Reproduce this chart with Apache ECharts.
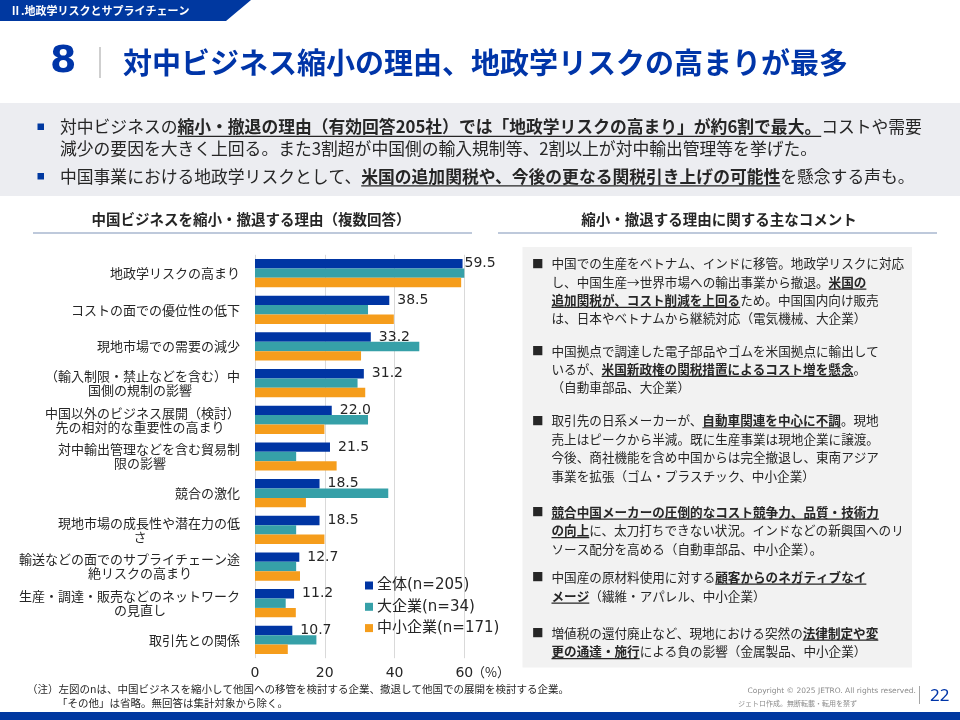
<!DOCTYPE html>
<html><head><meta charset="utf-8">
<script src="https://cdn.jsdelivr.net/npm/echarts@6/dist/echarts.min.js"></script>
<style>html,body{margin:0;padding:0;background:#fff}#c{width:960px;height:720px}</style>
</head><body><div id="c"></div>
<script>
// ---- data ----
const categories = [
  '地政学リスクの高まり',
  'コストの面での優位性の低下',
  '現地市場での需要の減少',
  '（輸入制限・禁止などを含む）中\n国側の規制の影響',
  '中国以外のビジネス展開（検討）\n先の相対的な重要性の高まり',
  '対中輸出管理などを含む貿易制\n限の影響',
  '競合の激化',
  '現地市場の成長性や潜在力の低\nさ',
  '輸送などの面でのサプライチェーン途\n絶リスクの高まり',
  '生産・調達・販売などのネットワーク\nの見直し',
  '取引先との関係'
];
const seriesNames = ['全体(n=205)', '大企業(n=34)', '中小企業(n=171)'];
const allFirms = [59.5, 38.5, 33.2, 31.2, 22.0, 21.5, 18.5, 18.5, 12.7, 11.2, 10.7];
const largeFirms = [61.8, 32.4, 47.1, 29.4, 32.4, 11.8, 38.2, 11.8, 11.8, 8.8, 17.6];
const smeFirms = [59.1, 39.8, 30.4, 31.6, 19.9, 23.4, 14.6, 19.9, 12.9, 11.7, 9.4];
const xTicks = [0, 20, 40, 60];

// ---- slide texts ----
const bannerText = 'Ⅱ.地政学リスクとサプライチェーン';
const titleNum = '8';
const titleText = '対中ビジネス縮小の理由、地政学リスクの高まりが最多';
const summaryLines = [
  [['対中ビジネスの', 0], ['縮小・撤退の理由（有効回答205社）では「地政学リスクの高まり」が約6割で最大。', 1], ['コストや需要', 0]],
  [['減少の要因を大きく上回る。また3割超が中国側の輸入規制等、2割以上が対中輸出管理等を挙げた。', 0]],
  [['中国事業における地政学リスクとして、', 0], ['米国の追加関税や、今後の更なる関税引き上げの可能性', 1], ['を懸念する声も。', 0]]
];
const leftHeader = '中国ビジネスを縮小・撤退する理由（複数回答）';
const rightHeader = '縮小・撤退する理由に関する主なコメント';
const comments = [
  [[['中国での生産をベトナム、インドに移管。地政学リスクに対応', 0]],
   [['し、中国生産→世界市場への輸出事業から撤退。', 0], ['米国の', 1]],
   [['追加関税が、コスト削減を上回る', 1], ['ため。中国国内向け販売', 0]],
   [['は、日本やベトナムから継続対応（電気機械、大企業）', 0]]],
  [[['中国拠点で調達した電子部品やゴムを米国拠点に輸出して', 0]],
   [['いるが、', 0], ['米国新政権の関税措置によるコスト増を懸念', 1], ['。', 0]],
   [['（自動車部品、大企業）', 0]]],
  [[['取引先の日系メーカーが、', 0], ['自動車関連を中心に不調', 1], ['。現地', 0]],
   [['売上はピークから半減。既に生産事業は現地企業に譲渡。', 0]],
   [['今後、商社機能を含め中国からは完全撤退し、東南アジア', 0]],
   [['事業を拡張（ゴム・プラスチック、中小企業）', 0]]],
  [[['競合中国メーカーの圧倒的なコスト競争力、品質・技術力', 1]],
   [['の向上', 1], ['に、太刀打ちできない状況。インドなどの新興国へのリ', 0]],
   [['ソース配分を高める（自動車部品、中小企業）。', 0]]],
  [[['中国産の原材料使用に対する', 0], ['顧客からのネガティブなイ', 1]],
   [['メージ', 1], ['（繊維・アパレル、中小企業）', 0]]],
  [[['増値税の還付廃止など、現地における突然の', 0], ['法律制定や変', 1]],
   [['更の通達・施行', 1], ['による負の影響（金属製品、中小企業）', 0]]]
];
const commentY = [[263.5, 282, 300.3, 318.6], [351, 369.3, 387.6], [420.7, 439, 457.5, 476], [512, 530.5, 549], [577, 596], [633, 651.5]];
const noteLines = ['（注）左図のnは、中国ビジネスを縮小して他国への移管を検討する企業、撤退して他国での展開を検討する企業。', '「その他」は省略。無回答は集計対象から除く。'];

// ---- helpers ----
const CJK = '"Noto Sans CJK JP", "Noto Sans CJK SC", sans-serif';
const LAT = '"DejaVu Sans", "Noto Sans CJK JP", sans-serif';
const TXT = '#262626';
const BLUE = '#0038A0';
const cv = document.createElement('canvas').getContext('2d');
function fontStr(size, bold, fam) { return (bold ? 'bold ' : '') + size + 'px ' + (fam || CJK); }
function txt(x, y, text, size, bold, fill, align, fam) {
  return { type: 'text', x: x, y: y, silent: true,
    style: { text: text, font: fontStr(size, bold, fam), fill: fill, textAlign: align || 'left', textVerticalAlign: 'middle' } };
}
function richLine(x, y, parts, size, color, ulw) {
  const els = [];
  let cx = x;
  parts.forEach(p => {
    const t = p[0], b = !!p[1];
    const f = fontStr(size, b);
    cv.font = f;
    const w = cv.measureText(t).width;
    els.push(txt(cx, y, t, size, b, color));
    if (b) els.push({ type: 'line', silent: true, shape: { x1: cx, y1: y + size * 0.56, x2: cx + w, y2: y + size * 0.56 }, style: { stroke: color, lineWidth: ulw || 1 } });
    cx += w;
  });
  return els;
}

const g = [];
// banner
g.push({ type: 'polygon', silent: true, shape: { points: [[0, 0], [251, 0], [226, 21], [0, 21]] }, style: { fill: BLUE } });
g.push(txt(10, 11, bannerText, 11, true, '#fff'));
// title
g.push(txt(50, 62, titleNum, 38, true, '#0035A8', 'left', '"DejaVu Sans", sans-serif'));
g.push({ type: 'line', silent: true, shape: { x1: 100, y1: 47, x2: 100, y2: 78 }, style: { stroke: '#BFBFBF', lineWidth: 1.5 } });
g.push(txt(123, 63, titleText, 29, true, '#0035A8'));
// summary box
g.push({ type: 'rect', silent: true, shape: { x: 0, y: 103, width: 960, height: 93 }, style: { fill: '#ECEDF1' } });
g.push({ type: 'rect', silent: true, shape: { x: 37.5, y: 123.5, width: 6.5, height: 6.5 }, style: { fill: BLUE } });
g.push({ type: 'rect', silent: true, shape: { x: 37.5, y: 173, width: 6.5, height: 6.5 }, style: { fill: BLUE } });
const sumY = [127, 148.5, 176.5];
summaryLines.forEach((ln, i) => { richLine(60, sumY[i], ln, 16.8, TXT, 1.3).forEach(e => g.push(e)); });
// section headers
g.push(txt(251, 219.5, leftHeader, 14.5, true, TXT, 'center'));
g.push({ type: 'line', silent: true, shape: { x1: 33, y1: 233, x2: 472, y2: 233 }, style: { stroke: '#A9B7CF', lineWidth: 1.5 } });
g.push(txt(719, 219.5, rightHeader, 14.5, true, TXT, 'center'));
g.push({ type: 'line', silent: true, shape: { x1: 498, y1: 233, x2: 937, y2: 233 }, style: { stroke: '#A9B7CF', lineWidth: 1.5 } });
// comments box
g.push({ type: 'rect', silent: true, shape: { x: 522.5, y: 247, width: 389.5, height: 420.5 }, style: { fill: '#F2F2F2' } });
comments.forEach((para, pi) => {
  g.push(txt(532, commentY[pi][0], '■', 11.5, false, TXT));
  para.forEach((ln, li) => { richLine(551.5, commentY[pi][li], ln, 12.6, TXT, 1.2).forEach(e => g.push(e)); });
});
// x axis unit
g.push(txt(472, 672.5, '（%）', 13, false, TXT));
// footer
g.push(txt(27, 689, noteLines[0], 10.5, false, TXT));
g.push(txt(57, 703.5, noteLines[1], 10.5, false, TXT));
g.push(txt(916, 691.5, 'Copyright © 2025 JETRO. All rights reserved.', 7.5, false, '#8C8C8C', 'right', '"DejaVu Sans", sans-serif'));
g.push(txt(738, 703, 'ジェトロ作成。無断転載・転用を禁ず', 7, false, '#8C8C8C'));
g.push({ type: 'line', silent: true, shape: { x1: 919.5, y1: 686, x2: 919.5, y2: 704 }, style: { stroke: '#A6A6A6', lineWidth: 1 } });
g.push(txt(930, 696, '22', 17, false, '#0035A8', 'left', '"Noto Sans", sans-serif'));
g.push({ type: 'rect', silent: true, shape: { x: 0, y: 712, width: 960, height: 8 }, style: { fill: BLUE } });

const chart = echarts.init(document.getElementById('c'), null, { renderer: 'canvas' });
chart.setOption({
  backgroundColor: '#fff',
  animation: false,
  textStyle: { fontFamily: CJK },
  grid: { left: 255, right: 495.7, top: 254.8, bottom: 61.8, containLabel: false },
  legend: {
    orient: 'vertical', left: 360, top: 573, itemWidth: 8, itemHeight: 8, itemGap: 6.3, icon: 'rect',
    data: seriesNames,
    textStyle: { fontSize: 15, lineHeight: 15, fontFamily: LAT, color: TXT, padding: [0, 0, 0, -1] }
  },
  xAxis: {
    type: 'value', min: xTicks[0], max: xTicks[xTicks.length - 1], interval: 20,
    axisLine: { show: false }, axisTick: { show: false },
    splitLine: { show: true, lineStyle: { color: '#D9D9D9', width: 1 } },
    axisLabel: { fontSize: 14, fontFamily: LAT, color: TXT, margin: 8 }
  },
  yAxis: {
    type: 'category', data: categories, inverse: true,
    axisLine: { show: false }, axisTick: { show: false },
    axisLabel: {
      interval: 0, margin: 15, fontSize: 13, lineHeight: 14, color: TXT, fontFamily: CJK, align: 'right',
      formatter: function (v) {
        if (v.indexOf('\n') < 0) return v;
        const p = v.split('\n');
        return '{r|' + p[0] + '}\n{c|' + p[1] + '}';
      },
      rich: {
        r: { width: 200, align: 'right', fontSize: 13, lineHeight: 14, color: TXT, fontFamily: CJK },
        c: { width: 200, align: 'center', fontSize: 13, lineHeight: 14, color: TXT, fontFamily: CJK }
      }
    }
  },
  series: [
    { name: seriesNames[0], type: 'bar', barGap: '0%', barCategoryGap: '23%', itemStyle: { color: '#0035A3' },
      data: allFirms.map((v, i) => i === 0 ? { value: v, label: { distance: 2 } } : v),
      label: { show: true, position: 'right', distance: 8, fontSize: 14, fontFamily: LAT, color: TXT,
        formatter: p => Number(p.value).toFixed(1) } },
    { name: seriesNames[1], type: 'bar', barGap: '0%', barCategoryGap: '23%', itemStyle: { color: '#36A0A8' }, data: largeFirms },
    { name: seriesNames[2], type: 'bar', barGap: '0%', barCategoryGap: '23%', itemStyle: { color: '#F59D1C' }, data: smeFirms }
  ],
  graphic: g
});
</script>
</body></html>
